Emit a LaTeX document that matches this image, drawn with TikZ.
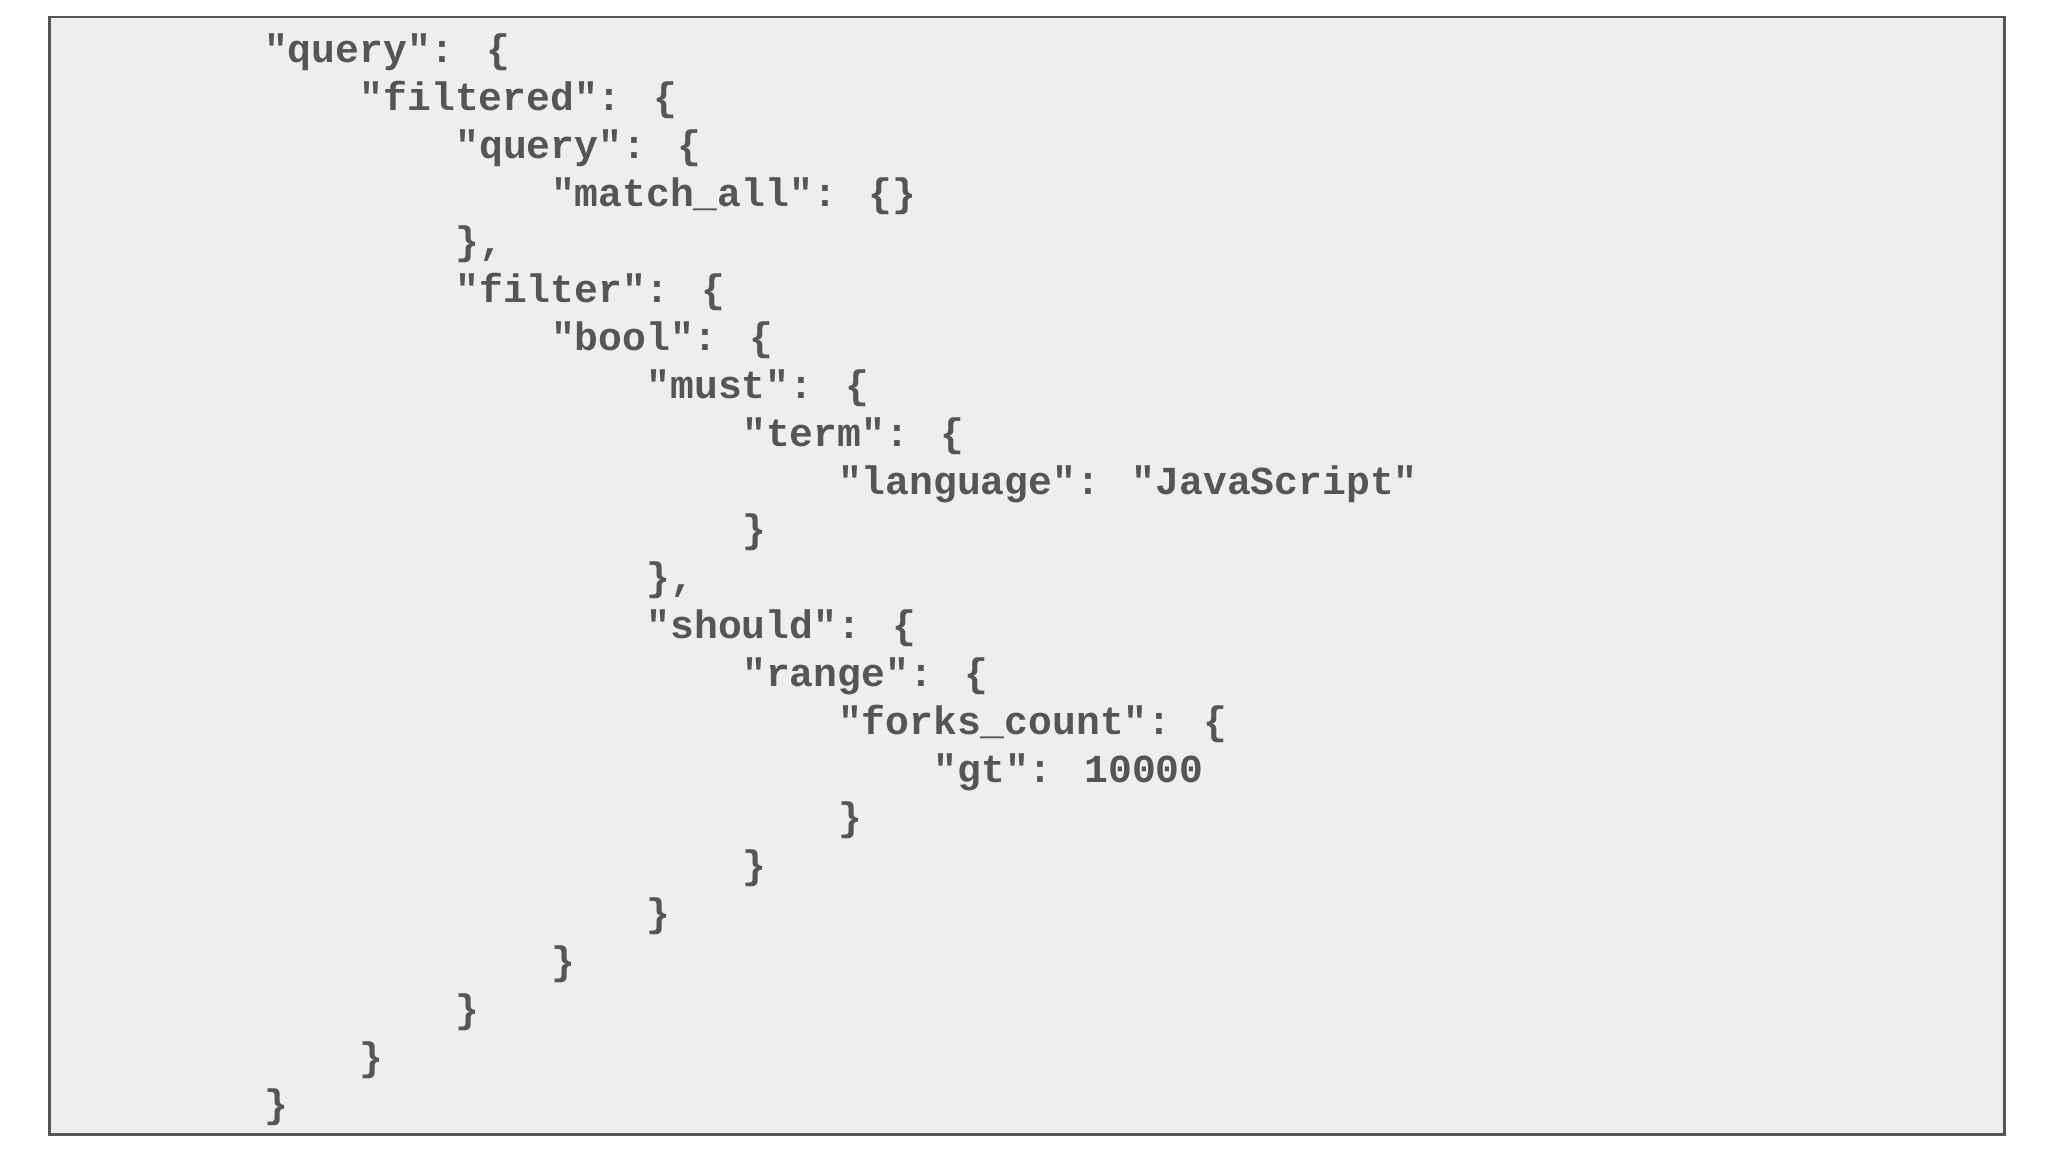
\documentclass[tikz,border=0pt]{standalone}
\usepackage{fontspec}
\newfontfamily\code{Liberation Mono}
\definecolor{txt}{HTML}{555555}
\definecolor{bg}{HTML}{EEEEEE}
\begin{document}
\begin{tikzpicture}[x=0.013103cm,y=-0.013103cm,
  ln/.style={anchor=base west,inner sep=0,text=txt,font=\code\bfseries\fontsize{11.3pt}{13pt}\selectfont}]
\useasboundingbox (0,0) rectangle (1563,879);
\draw[draw=txt,fill=bg,line width=0.8pt] (38,13) rectangle (1530,866);
\foreach \n/\lv/\t in {
 1/0/{"query": \{},
 2/1/{"filtered": \{},
 3/2/{"query": \{},
 4/3/{"match\_all": \{\}},
 5/2/{\},},
 6/2/{"filter": \{},
 7/3/{"bool": \{},
 8/4/{"must": \{},
 9/5/{"term": \{},
 10/6/{"language": "JavaScript"},
 11/5/{\}},
 12/4/{\},},
 13/4/{"should": \{},
 14/5/{"range": \{},
 15/6/{"forks\_count": \{},
 16/7/{"gt": 10000},
 17/6/{\}},
 18/5/{\}},
 19/4/{\}},
 20/3/{\}},
 21/2/{\}},
 22/1/{\}},
 23/0/{\}}}
 \node[ln] (l\n) at ({201+73*\lv},{48+36.6*(\n-1)}) {\t};
\end{tikzpicture}
\end{document}
